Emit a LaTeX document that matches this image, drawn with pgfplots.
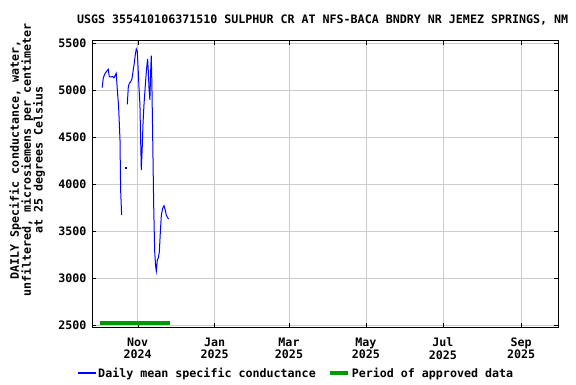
\documentclass[border=0pt]{standalone}
\usepackage{fontspec}
\setmainfont{DejaVu Sans Mono}
\usepackage{pgfplots}
\pgfplotsset{compat=1.18}
\begin{document}
\begin{tikzpicture}[x=1bp,y=1bp]
\useasboundingbox (0,0) rectangle (576,384);
\begin{axis}[
  at={(92bp,57bp)}, anchor=south west,
  width=466bp, height=286bp, scale only axis,
  xmin=-36.2, xmax=333.3, ymin=2479, ymax=5521,
  xtick={0,61,120,181,242,304},
  xticklabels={{Nov\\2024},{Jan\\2025},{Mar\\2025},{May\\2025},{Jul\\2025},{Sep\\2025}},
  xticklabel style={align=center, font=\fontsize{11.7}{12.8}\selectfont\bfseries, yshift=-7bp},
  ytick={2500,3000,3500,4000,4500,5000,5500},
  yticklabel style={font=\fontsize{11.7}{12.8}\selectfont\bfseries, xshift=-2bp},
  /pgf/number format/assume math mode=true,
  /pgf/number format/set thousands separator={},
  grid=major, major grid style={gray!40, line width=0.7bp},
  axis line style={black, line width=1bp},
  major tick length=4bp, tick style={black},
  title={USGS 355410106371510 SULPHUR CR AT NFS-BACA BNDRY NR JEMEZ SPRINGS, NM},
  title style={font=\fontsize{11.7}{12.8}\selectfont\bfseries, at={(0.495,1)}, anchor=south, yshift=6bp},
  ylabel={DAILY Specific conductance, water,\\unfiltered, microsiemens per centimeter\\at 25 degrees Celsius},
  ylabel style={font=\fontsize{11.7}{12}\selectfont\bfseries, align=center, at={(axis description cs:-0.139,0.584)}, anchor=center},
  legend style={draw=none, fill=none, font=\fontsize{11.7}{12.8}\selectfont\bfseries, at={(axis description cs:0.438,-0.161)}, anchor=center, /tikz/every even column/.append style={column sep=10bp}},
  legend columns=2,
  unbounded coords=jump,
]
\addplot[blue, line width=1bp, legend image code/.code={\draw[blue, line width=1.2bp] (0bp,0bp) -- (18bp,0bp);}] coordinates {
(-28.1,5025) (-27.3,5124) (-26.2,5167) (-25.2,5188) (-23.3,5220) (-22.5,5142)
(-21.2,5138) (-19.9,5145) (-18.8,5130) (-17.0,5178) (-16.2,5018) (-15.1,4822)
(-14.0,4468) (-13.5,3936) (-12.7,3670) (-11,nan)
(-8.2,4848) (-7.4,5035) (-6.6,5070) (-5.6,5085) (-4.5,5120) (-3.5,5213)
(-2.7,5284) (-1.9,5372) (-1.1,5436) (-0.3,5410) (0.2,5280) (1.0,5043)
(1.8,4848) (2.4,4450) (2.9,4149) (3.7,4414) (4.2,4627) (5.0,4840)
(6.1,5053) (7.1,5230) (7.9,5330) (8.4,5213) (9.0,5018) (9.7,4894)
(10.3,5195) (10.8,5365) (11.3,5053) (11.9,4521) (12.7,3777) (13.5,3280)
(14.3,3120) (14.8,3075) (15.6,3192) (16.4,3215) (17.2,3280) (18.0,3493)
(18.8,3670) (19.8,3740) (20.9,3769) (21.9,3722) (22.7,3670) (23.8,3640)
(24.6,3627)
};
\addlegendentry{Daily mean specific conductance}
\addplot[green!60!black, line width=3.2bp, legend image code/.code={\draw[green!60!black, line width=4bp] (0bp,0bp) -- (18bp,0bp);}] coordinates {(-30,2521) (25.6,2521)};
\addlegendentry{Period of approved data}
\addplot[blue, only marks, mark=square*, mark size=0.45bp, forget plot] coordinates {(-9.8,4178)};
\end{axis}
\end{tikzpicture}
\end{document}
